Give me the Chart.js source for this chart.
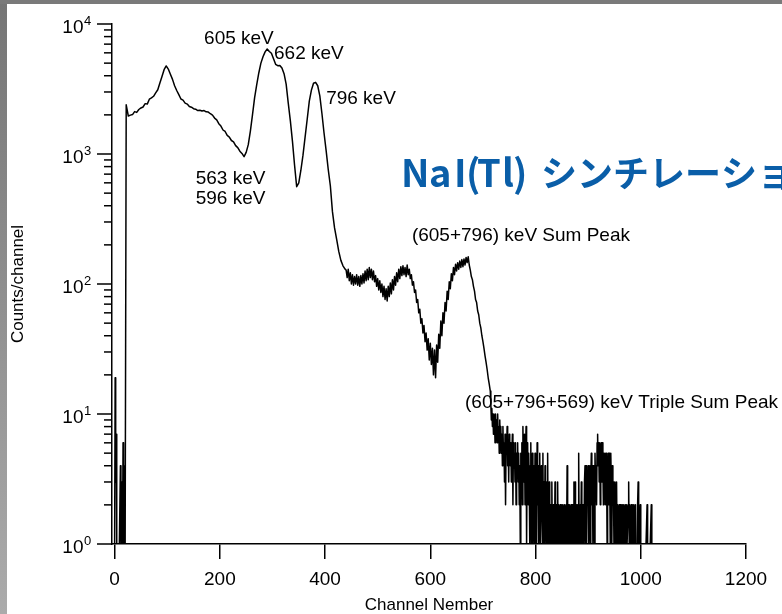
<!DOCTYPE html>
<html lang="ja">
<head>
<meta charset="UTF-8">
<title>NaI(Tl) spectrum</title>
<script src="https://cdn.jsdelivr.net/npm/chart.js"></script>
<style>
  html, body { margin: 0; padding: 0; background: #fff; }
  canvas { display: block; }
</style>
</head>
<body>
<canvas id="spectrum" width="782" height="614"></canvas>
<script>
// counts per channel (1 = sits on the axis)
// ch 0..20 : below threshold
const thresholdStart = 0;
const thresholdCounts = [1, 19, 3, 7, 1, 1, 1, 1, 1, 1, 1, 4, 1, 3, 1, 1, 6, 1, 4, 1, 1];

// ch 22..438, every 4 channels : compton edge + 605/662/796 keV peaks
const comptonStart = 22, comptonStep = 4;
const comptonCounts = [
  2390, 1960, 1990, 2010, 2120, 2090, 2200, 2260, 2300, 2440,
  2420, 2640, 2700, 2780, 2950, 3120, 3520, 3950, 4450, 4760,
  4500, 4100, 3750, 3350, 3080, 2860, 2650, 2600, 2460, 2420,
  2320, 2290, 2230, 2210, 2160, 2170, 2140, 2160, 2110, 2100,
  2040, 1990, 1890, 1830, 1710, 1640, 1530, 1490, 1390, 1350,
  1270, 1240, 1160, 1120, 1050, 1010, 955, 1030, 1180, 1500,
  2000, 2700, 3400, 4200, 5000, 5600, 6100, 6420, 6150, 5950,
  5400, 4900, 4780, 4800, 4580, 4150, 3450, 2460, 1800, 1250,
  820, 560, 600, 750, 980, 1350, 1850, 2550, 3100, 3500,
  3560, 3350, 2800, 2050, 1450, 1060, 760, 570, 360, 270,
  220, 178, 152, 138, 130
];

// ch 440..714, every 2 channels : plateau and (605+796) sum peak
const sumStart = 440, sumStep = 2;
const sumCounts = [
  128, 112, 130, 106, 122, 100, 118, 98, 114, 100,
  118, 98, 114, 96, 116, 100, 120, 102, 126, 106,
  130, 108, 134, 112, 130, 108, 126, 104, 116, 96,
  110, 90, 106, 86, 100, 80, 96, 76, 92, 74,
  96, 80, 102, 84, 108, 90, 114, 98, 122, 104,
  130, 110, 136, 116, 138, 118, 134, 114, 140, 118,
  130, 110, 118, 98, 104, 86, 90, 72, 76, 60,
  64, 50, 54, 42, 48, 36, 42, 31, 38, 26,
  35, 24, 32, 20, 31, 19, 34, 25, 41, 32,
  52, 40, 60, 50, 72, 62, 88, 76, 104, 92,
  120, 106, 134, 118, 142, 126, 146, 130, 150, 134,
  154, 136, 156, 140, 160, 146, 162, 140, 128, 114,
  108, 96, 88, 76, 72, 62, 58, 50, 46, 40,
  36, 32, 28, 25, 22, 19, 17, 15
];

// ch 715..1023, every channel : statistical tail
const tailStart = 715;
const tailCounts = [
  12, 9, 11, 8, 10, 7, 10, 9, 6, 10,
  8, 9, 6, 10, 7, 8, 5, 9, 6, 8,
  5, 7, 4, 8, 5, 6, 3, 7, 2, 6,
  5, 8, 4, 6, 3, 7, 5, 4, 6, 3,
  5, 7, 2, 6, 4, 5, 3, 6, 2, 5,
  4, 6, 3, 5, 2, 4, 1, 5, 3, 6,
  2, 8, 4, 3, 7, 2, 5, 8, 1, 4,
  6, 2, 5, 3, 1, 4, 6, 1, 3, 5,
  1, 4, 2, 1, 5, 1, 3, 1, 6, 2,
  4, 1, 3, 5, 1, 1, 4, 2, 1, 5,
  1, 3, 1, 4, 2, 1, 3, 1, 5, 1,
  2, 3, 1, 1, 2, 1, 3, 1, 1, 2,
  1, 1, 3, 1, 2, 1, 1, 3, 1, 2,
  1, 1, 2, 1, 1, 2, 1, 2, 1, 1,
  2, 1, 1, 2, 1, 4, 1, 2, 1, 1,
  2, 1, 1, 2, 1, 2, 1, 1, 3, 1,
  3, 1, 2, 1, 1, 2, 1, 5, 1, 1,
  2, 1, 3, 1, 1, 2, 2, 1, 3, 4,
  1, 4, 1, 3, 2, 4, 1, 3, 4, 1,
  3, 5, 2, 4, 1, 4, 3, 1, 5, 3,
  4, 2, 6, 7, 4, 6, 3, 6, 2, 5,
  6, 3, 6, 4, 2, 5, 3, 5, 2, 5,
  4, 1, 3, 5, 2, 5, 3, 1, 5, 3,
  1, 4, 2, 3, 1, 1, 3, 2, 1, 3,
  1, 2, 1, 1, 2, 1, 2, 1, 1, 2,
  1, 2, 1, 2, 1, 1, 2, 1, 2, 1,
  1, 2, 3, 1, 2, 1, 1, 2, 1, 1,
  2, 1, 2, 1, 1, 2, 1, 1, 1, 2,
  3, 1, 1, 1, 2, 1, 1, 1, 1, 1,
  1, 1, 1, 1, 1, 1, 1, 2, 1, 1,
  1, 1, 1, 1, 1, 2, 1, 1, 1
];

const xTicks = [0, 200, 400, 600, 800, 1000, 1200];
const yDecades = [0, 1, 2, 3, 4];

// text labels anchored at (channel, counts): left edge, vertical middle
const peakLabels = [
  { text: '605 keV', ch: 170, counts: 7700 },
  { text: '662 keV', ch: 303, counts: 5900 },
  { text: '796 keV', ch: 402, counts: 2680 },
  { text: '563 keV', ch: 154, counts: 650 },
  { text: '596 keV', ch: 154, counts: 456 },
  { text: '(605+796) keV Sum Peak', ch: 565, counts: 234 },
  { text: '(605+796+569) keV Triple Sum Peak', ch: 666, counts: 12.3 }
];

// slide title, runs off the right edge like the original
const titleLatin = [
  { text: 'N', x: 401 }, { text: 'a', x: 429 }, { text: 'I', x: 454 },
  { text: '(', x: 466 }, { text: 'T', x: 477 }, { text: 'l', x: 502 },
  { text: ')', x: 513 }
];
const titleKana = { text: 'シンチレーション検出器', x: 541 };

const latin = '"Liberation Sans", Arial, sans-serif';

function addSegment(points, start, step, counts) {
  counts.forEach((c, i) => points.push({ x: start + i * step, y: c }));
}

const spectrum = [];
addSegment(spectrum, thresholdStart, 1, thresholdCounts);
addSegment(spectrum, comptonStart, comptonStep, comptonCounts);
addSegment(spectrum, sumStart, sumStep, sumCounts);
addSegment(spectrum, tailStart, 1, tailCounts);

// frame, log ticks with superscript labels, annotations
const decor = {
  id: 'decor',
  beforeDraw(chart) {
    const ctx = chart.ctx;
    ctx.save();
    ctx.fillStyle = '#fff';
    ctx.fillRect(0, 0, chart.width, chart.height);
    const g = ctx.createLinearGradient(0, 0, 0, chart.height);
    g.addColorStop(0, '#757575');
    g.addColorStop(1, '#ababab');
    ctx.fillStyle = g;
    ctx.fillRect(0, 0, 7, chart.height);
    ctx.fillStyle = '#7a7a7a';
    ctx.fillRect(0, 0, chart.width, 4);
    ctx.restore();
  },
  afterDraw(chart) {
    const ctx = chart.ctx;
    const xs = chart.scales.x, ys = chart.scales.y;
    const left = chart.chartArea.left;
    ctx.save();
    ctx.strokeStyle = '#000';
    ctx.lineWidth = 1.5;
    yDecades.forEach(d => {
      for (let m = 1; m <= 9; m++) {
        if (d === 4 && m > 1) break;
        const py = ys.getPixelForValue(m * Math.pow(10, d));
        const len = m === 1 ? 15 : 8;
        ctx.beginPath();
        ctx.moveTo(left - len, py);
        ctx.lineTo(left, py);
        ctx.stroke();
      }
    });

    ctx.fillStyle = '#000';
    yDecades.forEach(d => {
      const py = ys.getPixelForValue(Math.pow(10, d));
      ctx.font = '19px ' + latin;
      ctx.textAlign = 'right';
      ctx.textBaseline = 'middle';
      ctx.fillText('10', left - 28.5, py + 4);
      ctx.font = '13px ' + latin;
      ctx.textAlign = 'left';
      ctx.textBaseline = 'alphabetic';
      ctx.fillText(String(d), left - 28, py + 1);
    });

    ctx.font = '19px ' + latin;
    ctx.textAlign = 'left';
    ctx.textBaseline = 'middle';
    peakLabels.forEach(l => {
      ctx.fillText(l.text, xs.getPixelForValue(l.ch), ys.getPixelForValue(l.counts));
    });

    ctx.fillStyle = '#0a5ea8';
    ctx.textBaseline = 'alphabetic';
    ctx.font = 'bold 38px "Noto Sans CJK JP", sans-serif';
    titleLatin.forEach(p => ctx.fillText(p.text, p.x, 187));
    ctx.font = 'bold 36px "Noto Sans CJK JP", sans-serif';
    ctx.fillText(titleKana.text, titleKana.x, 187);
    ctx.restore();
  }
};

new Chart(document.getElementById('spectrum'), {
  type: 'line',
  data: {
    datasets: [{
      data: spectrum,
      borderColor: '#000',
      borderWidth: 1.5,
      borderJoinStyle: 'round',
      pointRadius: 0,
      tension: 0,
      fill: false
    }]
  },
  options: {
    responsive: false,
    animation: false,
    devicePixelRatio: 1,
    layout: { padding: { left: 0, right: 36, top: 24, bottom: 0 } },
    plugins: { legend: { display: false }, tooltip: { enabled: false } },
    scales: {
      x: {
        type: 'linear',
        min: -5,
        max: 1200,
        afterBuildTicks: s => { s.ticks = xTicks.map(v => ({ value: v })); },
        afterFit: s => { s.height = 70; },
        grid: { display: true, drawOnChartArea: false, drawTicks: true, tickLength: 15, tickWidth: 1.5, tickColor: '#000', color: '#000', lineWidth: 1.5 },
        border: { display: true, color: '#000', width: 1.5 },
        ticks: { color: '#000', font: { family: latin, size: 19 }, padding: 9, maxRotation: 0, autoSkip: false, callback: v => String(v) },
        title: { display: true, text: 'Channel Nember', color: '#000', font: { family: latin, size: 17, lineHeight: 1 }, padding: { top: 0, bottom: 0 } }
      },
      y: {
        type: 'logarithmic',
        min: 1,
        max: 10000,
        afterFit: s => { s.width = 112; },
        grid: { display: false },
        border: { display: true, color: '#000', width: 1.5 },
        ticks: { display: false },
        title: { display: true, text: 'Counts/channel', color: '#000', font: { family: latin, size: 17, lineHeight: 1.2 }, padding: { top: 8, bottom: 0 } }
      }
    }
  },
  plugins: [decor]
});
</script>
</body>
</html>
